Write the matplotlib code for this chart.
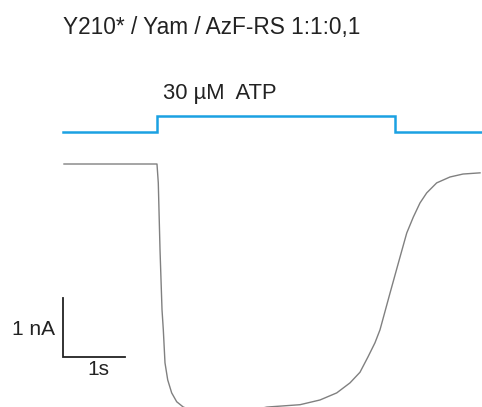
import matplotlib
matplotlib.use("Agg")
import matplotlib.pyplot as plt
import numpy as np

plt.rcParams['font.family'] = ['Liberation Sans', 'DejaVu Sans']

title = "Y210* / Yam / AzF-RS 1:1:0,1"
atp_label = "30 µM  ATP"

# current trace (time in s, current in nA, relative to baseline)
t_trace = [0.016, 0.6, 1.08, 1.516, 1.537, 1.565, 1.597, 1.618, 1.645, 1.689,
           1.753, 1.834, 1.940, 2.13, 2.53, 2.94, 3.29, 3.823, 4.145, 4.415,
           4.629, 4.79, 4.919, 5.032, 5.113, 5.274, 5.435, 5.544, 5.65, 5.758,
           5.866, 6.027, 6.242, 6.452, 6.726]
i_trace = [0.0, 0.0, 0.0, 0.0, -0.32, -1.46, -2.47, -2.81, -3.37, -3.66,
           -3.88, -4.03, -4.12, -4.19, -4.22, -4.20, -4.12, -4.08, -4.00, -3.88,
           -3.71, -3.53, -3.27, -3.03, -2.81, -2.19, -1.58, -1.17, -0.90, -0.66,
           -0.49, -0.32, -0.22, -0.17, -0.15]

# ATP application step
t_atp = [0.0, 1.516, 1.516, 5.355, 5.355, 6.76]
y_atp = [0.542, 0.542, 0.814, 0.814, 0.542, 0.542]

fig = plt.figure(figsize=(4.82, 4.07), dpi=100)
ax = fig.add_axes([0, 0, 1, 1])
ax.set_xlim(-1.016, 6.758)
ax.set_ylim(-4.119, 2.78)
ax.axis('off')

ax.plot(t_trace, i_trace, color='#808080', lw=1.0)
ax.plot(t_atp, y_atp, color='#1ba1e2', lw=1.8, solid_joinstyle='miter')

# scale bar: 1 nA, 1 s
ax.plot([0, 0, 1], [-2.27, -3.27, -3.27], color='#222222', lw=1.3,
        solid_joinstyle='miter')
ax.text(-0.129, -2.81, "1 nA", ha='right', va='center', fontsize=15, color='#222222')
ax.text(0.565, -3.49, "1s", ha='center', va='center', fontsize=15, color='#222222')

ax.text(0.0, 2.322, title, ha='left', va='center', fontsize=16.3, color='#222222')
ax.text(1.613, 1.203, atp_label, ha='left', va='center', fontsize=15.8, color='#222222')

fig.savefig("out.png", dpi=100)
